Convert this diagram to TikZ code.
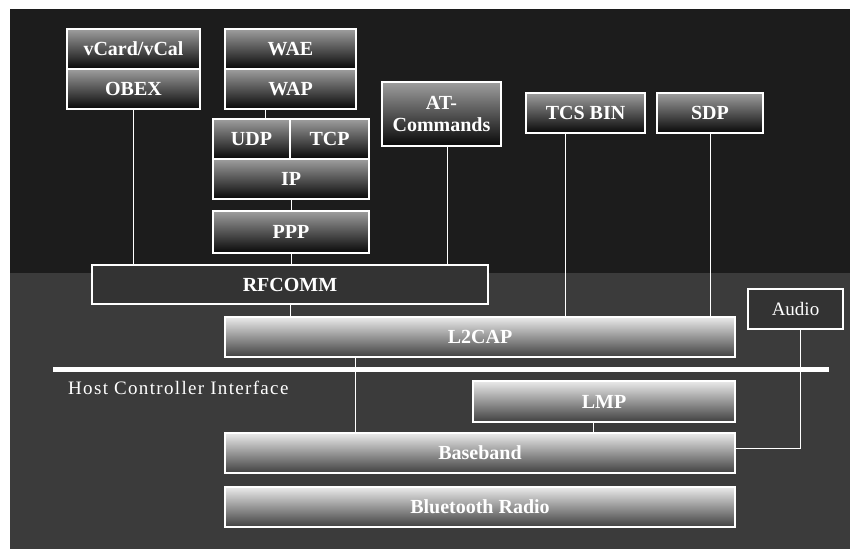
\documentclass[tikz,border=0pt]{standalone}
\usepackage{fontspec}
\setmainfont{Liberation Serif}
\tikzset{
  layer/.style={draw=white,line width=1.2pt,text=white,inner sep=1pt,
    font=\fontsize{20}{22}\selectfont\bfseries,align=center},
  upper/.style={layer,top color=black!38,bottom color=black!97},
  lower/.style={layer,top color=black!8,bottom color=black!75},
  plain/.style={layer,fill=black!80},
  link/.style={draw=white,line width=1pt}
}
\begin{document}
\begin{tikzpicture}[x=1pt,y=-1pt]
\path[use as bounding box] (0,0) rectangle (855,549);
\fill[white] (0,0) rectangle (855,549);
\fill[black!89] (10,9) rectangle (850,273);
\fill[black!77] (10,273) rectangle (850,549);
% upper stack
\node[upper,minimum width=133,minimum height=40] (vcard) at (133.5,49) {vCard/vCal};
\node[upper,minimum width=133,minimum height=40] (obex) at (133.5,89) {OBEX};
\node[upper,minimum width=131,minimum height=40] (wae) at (290.5,49) {WAE};
\node[upper,minimum width=131,minimum height=40] (wap) at (290.5,89) {WAP};
\node[upper,minimum width=77,minimum height=40] (udp) at (251.5,139) {UDP};
\node[upper,minimum width=79,minimum height=40] (tcp) at (329.5,139) {TCP};
\node[upper,minimum width=156,minimum height=40] (ip) at (291,179) {IP};
\node[upper,minimum width=156,minimum height=42] (ppp) at (291,232) {PPP};
\node[upper,minimum width=119,minimum height=64] (atcmd) at (441.5,114) {AT-\\Commands};
\node[upper,minimum width=119,minimum height=40] (tcs) at (585.5,113) {TCS BIN};
\node[upper,minimum width=106,minimum height=40] (sdp) at (710,113) {SDP};
\node[plain,minimum width=396,minimum height=39] (rfcomm) at (290,284.5) {RFCOMM};
\node[lower,minimum width=510,minimum height=40] (l2cap) at (480,337) {L2CAP};
\node[plain,minimum width=95,minimum height=40,font=\fontsize{19}{20}\selectfont] (audio) at (795.5,309) {Audio};
% host controller interface
\coordinate (hcil) at (53,369);
\coordinate (hcir) at (829,369);
\draw[white,line width=5pt] (hcil) -- (hcir);
\node[anchor=west,text=white,inner sep=0pt,
  font=\fontsize{19}{21}\selectfont\addfontfeature{LetterSpace=7}] (hci) at (68,388) {Host Controller Interface};
% lower stack
\node[lower,minimum width=262,minimum height=41] (lmp) at (604,401.5) {LMP};
\node[lower,minimum width=510,minimum height=40] (baseband) at (480,453) {Baseband};
\node[lower,minimum width=510,minimum height=40] (radio) at (480,507) {Bluetooth Radio};
% links
\draw[link] (obex.south) -- (obex.south |- rfcomm.north);
\draw[link] ([xshift=-25.5]wap.south) -- ([xshift=-25.5]wap.south |- udp.north);
\draw[link] (ip.south) -- (ip.south |- ppp.north);
\draw[link] (ppp.south) -- (ppp.south |- rfcomm.north);
\draw[link] ([xshift=6]atcmd.south) -- ([xshift=6]atcmd.south |- rfcomm.north);
\draw[link] ([xshift=-20]tcs.south) -- ([xshift=-20]tcs.south |- l2cap.north);
\draw[link] (sdp.south) -- (sdp.south |- l2cap.north);
\draw[link] (rfcomm.south) -- (rfcomm.south |- l2cap.north);
\draw[link] ([xshift=-125]l2cap.south) -- ([xshift=-125]l2cap.south |- baseband.north);
\draw[link] ([xshift=-11]lmp.south) -- ([xshift=-11]lmp.south |- baseband.north);
\draw[link] ([xshift=4.5]audio.south) |- ([yshift=5]baseband.east);
\end{tikzpicture}
\end{document}
